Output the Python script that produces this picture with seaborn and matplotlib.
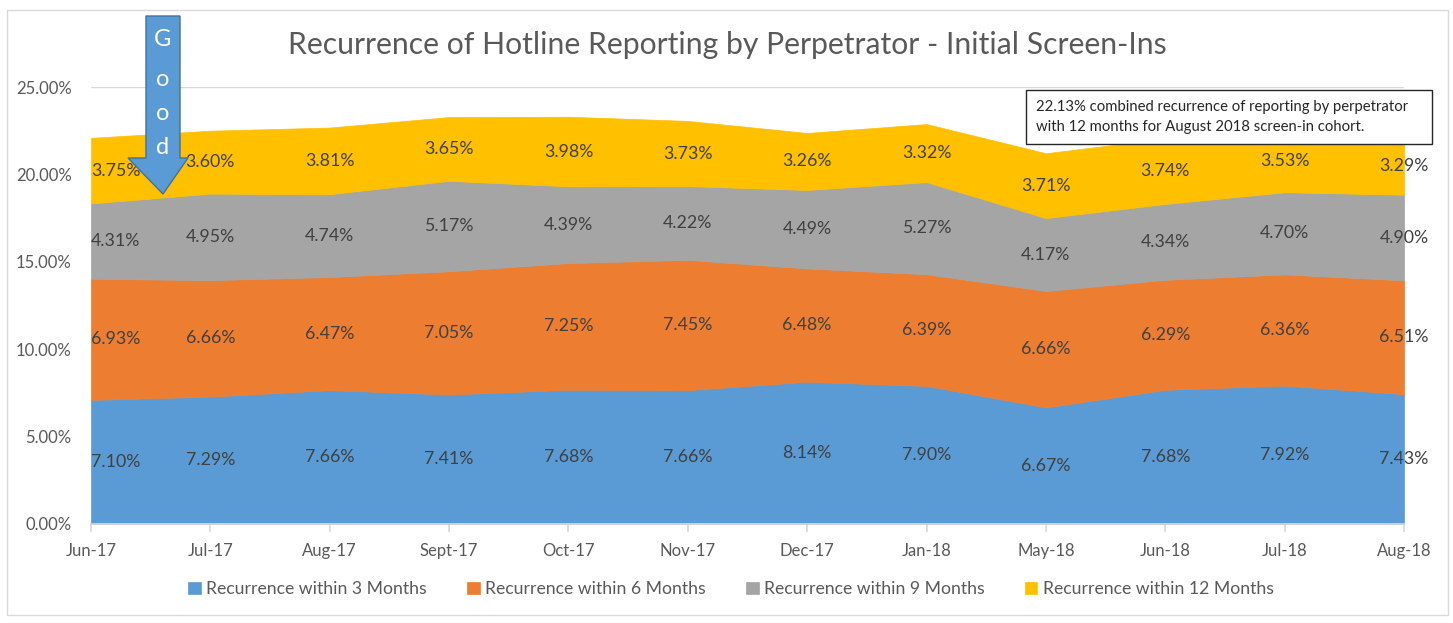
import matplotlib
matplotlib.use("Agg")
import matplotlib.pyplot as plt
import matplotlib.ticker as mtick
from matplotlib.patches import Polygon, Rectangle
import numpy as np
import seaborn as sns

# data (percent)
months = ['Jun-17', 'Jul-17', 'Aug-17', 'Sept-17', 'Oct-17', 'Nov-17',
          'Dec-17', 'Jan-18', 'May-18', 'Jun-18', 'Jul-18', 'Aug-18']
within_3 = [7.10, 7.29, 7.66, 7.41, 7.68, 7.66, 8.14, 7.90, 6.67, 7.68, 7.92, 7.43]
within_6 = [6.93, 6.66, 6.47, 7.05, 7.25, 7.45, 6.48, 6.39, 6.66, 6.29, 6.36, 6.51]
within_9 = [4.31, 4.95, 4.74, 5.17, 4.39, 4.22, 4.49, 5.27, 4.17, 4.34, 4.70, 4.90]
within_12 = [3.75, 3.60, 3.81, 3.65, 3.98, 3.73, 3.26, 3.32, 3.71, 3.74, 3.53, 3.29]
series_names = ['Recurrence within 3 Months', 'Recurrence within 6 Months',
                'Recurrence within 9 Months', 'Recurrence within 12 Months']

sns.set_theme(style='white')
plt.rcParams['font.family'] = ['Lato', 'DejaVu Sans']

colors = ['#5B9BD5', '#ED7D31', '#A5A5A5', '#FFC000']
W, H = 1453, 623
fig = plt.figure(figsize=(W / 100, H / 100), dpi=100)
ax = fig.add_axes([91 / W, 1 - 524 / H, (1404 - 91) / W, (524 - 87) / H])

x = np.arange(len(months))
stack = np.array([within_3, within_6, within_9, within_12]) / 100
polys = ax.stackplot(x, stack, colors=colors, labels=series_names, zorder=2, linewidth=0)
for p in polys:
    p.set_edgecolor(p.get_facecolor())
    p.set_linewidth(0.5)

ax.set_xlim(0, len(months) - 1)
ax.set_ylim(0, 0.25)
ax.set_yticks(np.arange(0, 0.2501, 0.05))
ax.yaxis.set_major_formatter(mtick.PercentFormatter(1.0, decimals=2))
ax.set_xticks(x)
ax.set_xticklabels(months)
ax.grid(axis='y', color='#D9D9D9', linewidth=1, zorder=0)
ax.set_axisbelow(True)
for s in ['top', 'right', 'left']:
    ax.spines[s].set_visible(False)
ax.spines['bottom'].set_color('#D9D9D9')
ax.tick_params(axis='x', direction='out', length=6, color='#D9D9D9',
               labelsize=12, labelcolor='#595959', pad=8, bottom=True)
ax.tick_params(axis='y', length=0, labelsize=12, labelcolor='#595959', pad=14)

# data labels centred in each band
cum = np.cumsum(stack, axis=0)
for k in range(stack.shape[0]):
    mids = cum[k] - stack[k] / 2
    for i in range(len(months)):
        ha = 'left' if i == 0 else 'center'
        ax.text(x[i], mids[i], f'{stack[k][i] * 100:.2f}%', ha=ha, va='center',
                fontsize=12.8, color='#404040', zorder=5)

# title
fig.text(727 / W, 1 - 45 / H, 'Recurrence of Hotline Reporting by Perpetrator - Initial Screen-Ins',
         ha='center', va='center', fontsize=21.7, color='#595959')

# legend
handles, labels = ax.get_legend_handles_labels()
fig.legend(handles, labels, loc='center', bbox_to_anchor=(731 / W, 1 - 589 / H), ncol=4,
           frameon=False, fontsize=12.7, handlelength=0.7, handleheight=0.7,
           handletextpad=0.3, columnspacing=2.3, labelcolor='#595959')

# callout box
fig.patches.append(Rectangle((1026 / W, 1 - 144 / H), (1432 - 1026) / W, (144 - 90) / H,
                             transform=fig.transFigure, facecolor='white',
                             edgecolor='#262626', linewidth=1, zorder=6))
fig.text(1036 / W, 1 - 117 / H,
         '22.13% combined recurrence of reporting by perpetrator\nwith 12 months for August 2018 screen-in cohort.',
         ha='left', va='center', fontsize=10.7, color='#262626', linespacing=1.5, zorder=7)

# "Good" arrow
arrow_px = [(146, 16), (180, 16), (180, 158), (188, 158), (163, 194), (128, 158), (146, 158)]
arrow = [(px / W, 1 - py / H) for px, py in arrow_px]
fig.patches.append(Polygon(arrow, closed=True, transform=fig.transFigure,
                           facecolor='#5B9BD5', edgecolor='#41719C', linewidth=1, zorder=8))
for ch, py in zip('Good', [40, 80, 114, 148]):
    fig.text(163 / W, 1 - py / H, ch, ha='center', va='center', fontsize=17,
             color='white', zorder=9)

# outer chart border
fig.patches.append(Rectangle((7 / W, 1 - 615 / H), (1448 - 7) / W, (615 - 10) / H,
                             transform=fig.transFigure, facecolor='none',
                             edgecolor='#D9D9D9', linewidth=1, zorder=0))

fig.savefig('out.png', dpi=100)
